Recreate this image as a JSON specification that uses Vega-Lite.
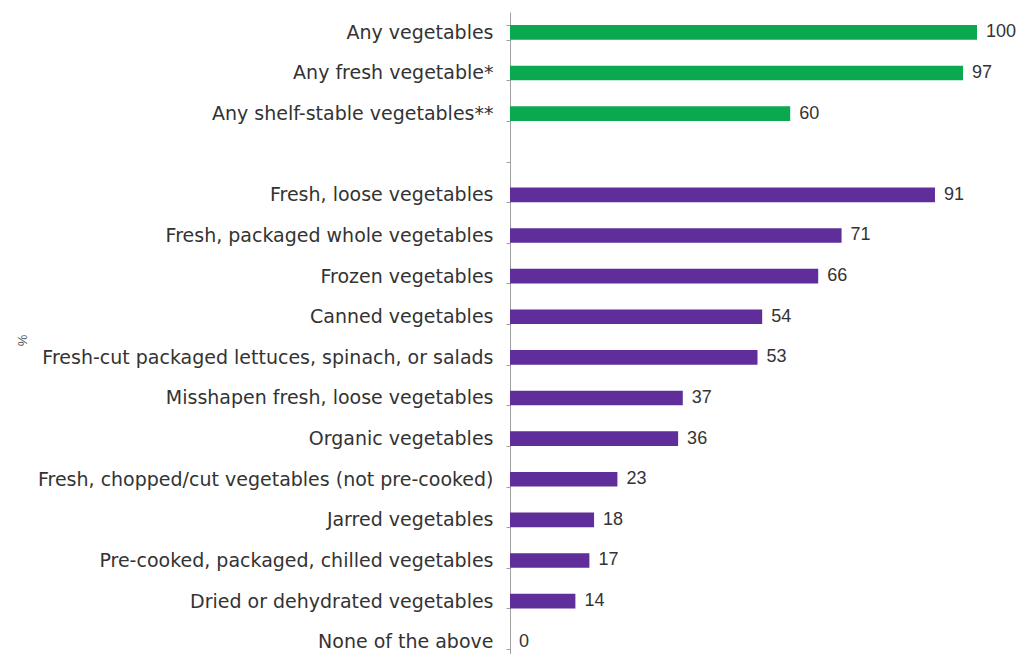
{
  "$schema": "https://vega.github.io/schema/vega-lite/v6.json",
  "width": 467,
  "height": 650,
  "autosize": "none",
  "padding": {"left": 510, "top": 12, "right": 51, "bottom": 0},
  "background": "white",
  "data": {
    "values": [
      {"item": "Any vegetables", "value": 100, "group": "Any"},
      {"item": "Any fresh vegetable*", "value": 97, "group": "Any"},
      {"item": "Any shelf-stable vegetables**", "value": 60, "group": "Any"},
      {"item": "Fresh, loose vegetables", "value": 91, "group": "Type"},
      {"item": "Fresh, packaged whole vegetables", "value": 71, "group": "Type"},
      {"item": "Frozen vegetables", "value": 66, "group": "Type"},
      {"item": "Canned vegetables", "value": 54, "group": "Type"},
      {"item": "Fresh-cut packaged lettuces, spinach, or salads", "value": 53, "group": "Type"},
      {"item": "Misshapen fresh, loose vegetables", "value": 37, "group": "Type"},
      {"item": "Organic vegetables", "value": 36, "group": "Type"},
      {"item": "Fresh, chopped/cut vegetables (not pre-cooked)", "value": 23, "group": "Type"},
      {"item": "Jarred vegetables", "value": 18, "group": "Type"},
      {"item": "Pre-cooked, packaged, chilled vegetables", "value": 17, "group": "Type"},
      {"item": "Dried or dehydrated vegetables", "value": 14, "group": "Type"},
      {"item": "None of the above", "value": 0, "group": "Type"}
    ]
  },
  "encoding": {
    "y": {
      "field": "item",
      "type": "nominal",
      "sort": null,
      "scale": {
        "domain": ["Any vegetables", "Any fresh vegetable*", "Any shelf-stable vegetables**", " ",
          "Fresh, loose vegetables", "Fresh, packaged whole vegetables", "Frozen vegetables", "Canned vegetables",
          "Fresh-cut packaged lettuces, spinach, or salads", "Misshapen fresh, loose vegetables", "Organic vegetables",
          "Fresh, chopped/cut vegetables (not pre-cooked)", "Jarred vegetables", "Pre-cooked, packaged, chilled vegetables",
          "Dried or dehydrated vegetables", "None of the above"],
        "paddingInner": 0.64,
        "paddingOuter": 0.32
      },
      "axis": {
        "title": "%",
        "titleAngle": -90,
        "titleX": -481,
        "titleY": 328,
        "titleFont": "Liberation Sans",
        "titleFontSize": 13,
        "titleFontWeight": "normal",
        "titleColor": "#555555",
        "labelFont": "DejaVu Sans",
        "labelFontSize": 19,
        "labelColor": "#333333",
        "labelPadding": 13,
        "labelLimit": 600,
        "domainColor": "#a0a0a0",
        "tickColor": "#a0a0a0",
        "tickSize": 4,
        "tickBand": "extent"
      }
    },
    "x": {
      "field": "value",
      "type": "quantitative",
      "scale": {"domain": [0, 100], "nice": false},
      "axis": null
    }
  },
  "layer": [
    {
      "mark": {"type": "bar"},
      "encoding": {
        "color": {
          "field": "group",
          "type": "nominal",
          "scale": {"domain": ["Any", "Type"], "range": ["#0aa84f", "#5f2e9b"]},
          "legend": null
        }
      }
    },
    {
      "mark": {"type": "text", "align": "left", "baseline": "middle", "dx": 9, "font": "Liberation Sans", "fontSize": 18, "color": "#333333"},
      "encoding": {"text": {"field": "value", "type": "quantitative"}}
    }
  ],
  "config": {"view": {"stroke": null}}
}
